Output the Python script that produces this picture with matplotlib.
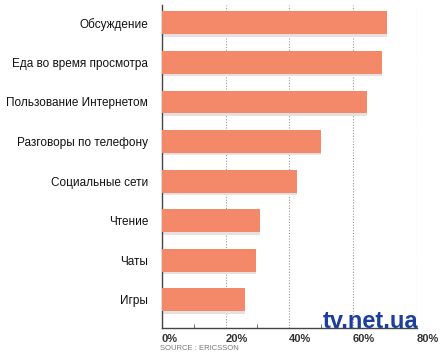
import matplotlib
matplotlib.use('Agg')
import matplotlib.pyplot as plt

categories = ['Обсуждение', 'Еда во время просмотра', 'Пользование Интернетом',
              'Разговоры по телефону', 'Социальные сети', 'Чтение', 'Чаты', 'Игры']
values = [70.8, 69.0, 64.4, 49.8, 42.3, 30.8, 29.7, 26.1]
major_ticks = [0, 20, 40, 60, 80]
minor_ticks = [10, 30, 50, 70]
tick_labels = ['0%', '20%', '40%', '60%', '80%']

plt.rcParams['font.family'] = ['Liberation Sans', 'DejaVu Sans']

fig = plt.figure(figsize=(4.4, 3.6), dpi=100)
ax = fig.add_axes([0.368, 0.089, 0.579, 0.897])

ypos = list(range(len(categories)))
# soft shadow under the bars
ax.barh([y + 0.06 for y in ypos], values, height=0.58, color='#e6e1de', zorder=2)
ax.barh(ypos, values, height=0.58, color='#f4896a', zorder=3)

ax.set_xlim(0, 80)
ax.set_ylim(7.71, -0.45)

ax.set_xticks(major_ticks)
ax.set_xticklabels(tick_labels, ha='left', fontsize=8, color='#333333', fontweight='bold')
ax.set_xticks(minor_ticks, minor=True)
ax.tick_params(axis='x', which='both', direction='in', length=3, color='#555555', pad=4)
ax.tick_params(axis='x', which='major', length=0)

ax.set_yticks(ypos)
ax.set_yticklabels(categories, fontsize=8.5, color='#111111')
ax.tick_params(axis='y', length=0, pad=10)

for g in major_ticks[1:]:
    ax.axvline(g, color='#999999', linestyle=(0, (1, 1.5)), linewidth=0.8, zorder=1)

for s in ['top', 'right']:
    ax.spines[s].set_visible(False)
ax.spines['left'].set_color('#444444')
ax.spines['bottom'].set_color('#444444')
ax.spines['left'].set_linewidth(1)
ax.spines['bottom'].set_linewidth(1)

fig.text(160 / 440, 1 - 349 / 360, 'SOURCE : ERICSSON', fontsize=5.5, color='#777777',
         va='center', ha='left')
fig.text(323 / 440, 1 - 322 / 360, 'tv.net.ua', fontsize=17, color='#1c3f9e',
         fontweight='bold', va='center', ha='left')

fig.savefig('out.png', dpi=100)
